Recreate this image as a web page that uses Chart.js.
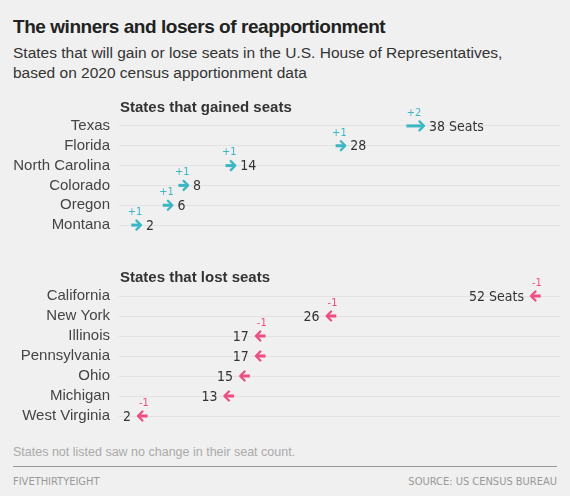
<!DOCTYPE html>
<html>
<head>
<meta charset="utf-8">
<script src="https://cdn.jsdelivr.net/npm/chart.js@4"></script>
<style>
  body { margin: 0; background: #f0f0f0; }
  #wrap { position: relative; width: 570px; height: 496px; background: #f0f0f0; font-family: "Liberation Sans", Helvetica, Arial, sans-serif; }
  #title { position: absolute; left: 13px; top: 16px; font-size: 19px; font-weight: bold; color: #222; letter-spacing: -0.45px; }
  #sub { position: absolute; left: 13px; top: 43px; font-size: 15.5px; line-height: 20px; color: #333; }
  canvas { position: absolute; left: 0; }
  #note { position: absolute; left: 13px; top: 445px; font-size: 12.5px; color: #aaa; }
  #rule { position: absolute; left: 13px; top: 466px; width: 544px; height: 1px; background: #999; }
  .foot { position: absolute; top: 475px; font-family: "Liberation Sans Narrow", "DejaVu Sans Condensed", sans-serif; font-size: 11px; color: #999; }
</style>
</head>
<body>
<div id="wrap">
  <div id="title">The winners and losers of reapportionment</div>
  <div id="sub">States that will gain or lose seats in the U.S. House of Representatives,<br>based on 2020 census apportionment data</div>
  <canvas id="gained" width="570" height="157" style="top:96px"></canvas>
  <canvas id="lost" width="570" height="178" style="top:266px"></canvas>
  <div id="note">States not listed saw no change in their seat count.</div>
  <div id="rule"></div>
  <div class="foot" style="left:13px">FIVETHIRTYEIGHT</div>
  <div class="foot" style="right:13px">SOURCE: US CENSUS BUREAU</div>
</div>
<script>
// seats before / after the 2020 apportionment
const gainedStates = ["Texas", "Florida", "North Carolina", "Colorado", "Oregon", "Montana"];
const gainedBefore = [36, 27, 13, 7, 5, 1];
const gainedAfter = [38, 28, 14, 8, 6, 2];
const gainedChange = ["+2", "+1", "+1", "+1", "+1", "+1"];

const lostStates = ["California", "New York", "Illinois", "Pennsylvania", "Ohio", "Michigan", "West Virginia"];
const lostBefore = [53, 27, 18, 18, 16, 14, 3];
const lostAfter = [52, 26, 17, 17, 15, 13, 2];
const lostChange = ["-1", "-1", "-1", "", "", "", "-1"];

const TEAL = "#3db6c4";
const PINK = "#ec4f86";

const arrowPlugin = {
    id: "arrows",
    afterDatasetsDraw(chart, args, opts) {
        let c = chart.ctx;
        let xs = chart.scales.x, ys = chart.scales.y;
        let area = chart.chartArea;
        c.save();
        // section header
        c.font = "bold 15px 'Liberation Sans', Arial, sans-serif";
        c.fillStyle = "#333";
        c.textAlign = "left";
        c.textBaseline = "middle";
        c.fillText(opts.header, area.left + 1, area.top - 8);

        for (let i = 0; i < opts.before.length; i++) {
            let y = ys.getPixelForValue(i);
            let x0 = xs.getPixelForValue(opts.before[i]);
            let x1 = xs.getPixelForValue(opts.after[i]);
            let dir = x1 > x0 ? 1 : -1;
            let tip = x1 + dir * 1.5;
            // arrow head
            c.strokeStyle = opts.color;
            c.lineWidth = 2.3;
            c.lineCap = "round";
            c.lineJoin = "round";
            c.beginPath();
            c.moveTo(tip - dir * 4.5, y - 4.5);
            c.lineTo(tip, y);
            c.lineTo(tip - dir * 4.5, y + 4.5);
            c.stroke();
            // change label
            if (opts.change[i]) {
                c.font = "11px 'Liberation Sans Narrow', 'DejaVu Sans Condensed', sans-serif";
                c.fillStyle = opts.color;
                c.textAlign = "center";
                c.fillText(opts.change[i], (x0 + x1) / 2 - dir * 0.5, y - 13);
            }
            // seat count
            let txt = opts.after[i] + (i === 0 ? " Seats" : "");
            c.font = "14px 'Liberation Sans Narrow', 'DejaVu Sans Condensed', sans-serif";
            c.fillStyle = "#333";
            if (dir > 0) {
                c.textAlign = "left";
                c.fillText(txt, tip + 5, y + 1);
            } else {
                c.textAlign = "right";
                c.fillText(txt, tip - 7, y + 1);
            }
        }
        c.restore();
    }
};

function make_chart(id, states, before, after, change, color, header) {
    let c = document.getElementById(id).getContext("2d");
    return new Chart(c, {
        type: "bar",
        data: {
            labels: states,
            datasets: [{
                data: before.map((b, i) => [b, after[i]]),
                backgroundColor: color,
                borderWidth: 0,
                borderSkipped: false,
                barThickness: 2.4
            }]
        },
        options: {
            indexAxis: "y",
            responsive: false,
            animation: false,
            layout: { padding: { top: 20, right: 10, left: 0, bottom: 0 } },
            plugins: {
                legend: { display: false },
                tooltip: { enabled: false },
                arrows: { before: before, after: after, change: change, color: color, header: header }
            },
            scales: {
                x: { type: "linear", min: -0.6, max: 55.5, display: false },
                y: {
                    grid: { offset: false, color: "#e2e2e2", drawTicks: false, lineWidth: 1 },
                    border: { display: false },
                    ticks: {
                        autoSkip: false,
                        padding: 9,
                        color: "#444",
                        font: { family: "'Liberation Sans', Arial, sans-serif", size: 15 }
                    },
                    afterFit(scale) { scale.width = 119; }
                }
            }
        },
        plugins: [arrowPlugin]
    });
}

make_chart("gained", gainedStates, gainedBefore, gainedAfter, gainedChange, TEAL, "States that gained seats");
make_chart("lost", lostStates, lostBefore, lostAfter, lostChange, PINK, "States that lost seats");
</script>
</body>
</html>
